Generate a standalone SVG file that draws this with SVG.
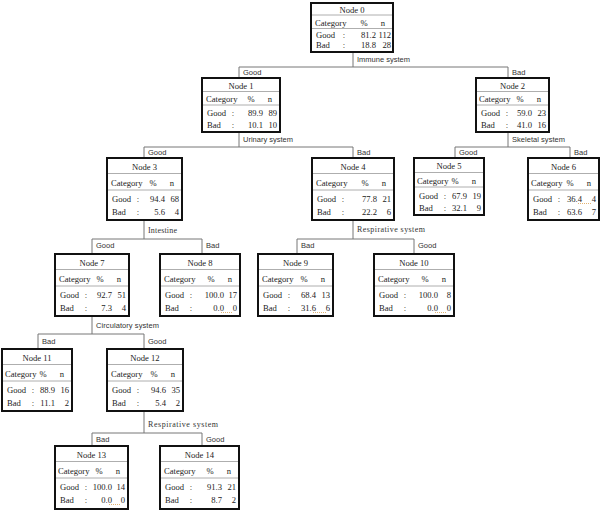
<svg xmlns="http://www.w3.org/2000/svg" width="612" height="511" viewBox="0 0 612 511">
<style>
.bg{fill:#fff}
.box{fill:#fff;stroke:#111;stroke-width:2}
.sep{stroke:#999;stroke-width:0.8}
.t{font-family:"Liberation Serif",serif;font-size:8.6px;fill:#222}
.m{text-anchor:middle}
.e{text-anchor:end}
.c{stroke:#777;stroke-width:1;fill:none}
.lbl{font-family:"Liberation Sans",sans-serif;font-size:7.5px;fill:#333}
.sl{font-family:"Liberation Serif",serif;font-size:8px;fill:#333}
.dot{stroke:#d9a050;stroke-width:0.8;stroke-dasharray:1 1}
</style>
<rect class="bg" x="0" y="0" width="612" height="511"/>

<g id="connectors">
  <path class="c" d="M353 52V67M239 67H508M239 67V78M508 67V78"/>
  <path class="c" d="M239 132V147M144 147H353M144 147V158M353 147V158"/>
  <path class="c" d="M508 132V147M455 147H570M455 147V158M570 147V158"/>
  <path class="c" d="M144 220V239M92 239H202M92 239V254M202 239V254"/>
  <path class="c" d="M353 220V239M297 239H414M297 239V254M414 239V254"/>
  <path class="c" d="M92 316V334M38 334H144M38 334V349M144 334V349"/>
  <path class="c" d="M144 411V433M92 433H202M92 433V446M202 433V446"/>
  <text class="lbl" x="357" y="62" textLength="53">Immune system</text>
  <text class="lbl" x="243" y="75">Good</text>
  <text class="lbl" x="512" y="75">Bad</text>
  <text class="lbl" x="243" y="142" textLength="50">Urinary system</text>
  <text class="lbl" x="148" y="155">Good</text>
  <text class="lbl" x="357" y="155">Bad</text>
  <text class="lbl" x="512" y="142" textLength="53">Skeletal system</text>
  <text class="lbl" x="459" y="155">Good</text>
  <text class="lbl" x="574" y="155">Bad</text>
  <text class="sl" x="148" y="233" textLength="29">Intestine</text>
  <text class="lbl" x="96" y="248">Good</text>
  <text class="lbl" x="206" y="248">Bad</text>
  <text class="sl" x="357" y="232" textLength="68">Respirative system</text>
  <text class="lbl" x="301" y="248">Bad</text>
  <text class="lbl" x="418" y="248">Good</text>
  <text class="lbl" x="96" y="328" textLength="63">Circulatory system</text>
  <text class="lbl" x="42" y="344">Bad</text>
  <text class="lbl" x="148" y="344">Good</text>
  <text class="sl" x="148" y="427" textLength="70">Respirative system</text>
  <text class="lbl" x="96" y="442">Bad</text>
  <text class="lbl" x="206" y="442">Good</text>
</g>

<g id="node0">
  <rect class="box" x="311" y="3" width="82" height="49"/>
  <path class="sep" d="M312 15H392M312 28.5H392"/>
  <text class="t m" x="352" y="13">Node 0</text>
  <text class="t" x="315" y="25.5">Category</text><text class="t m" x="364" y="25.5">%</text><text class="t m" x="383" y="25.5">n</text>
  <text class="t" x="316" y="38">Good</text><text class="t m" x="344" y="38">:</text><text class="t e" x="376" y="38">81.2</text><text class="t e" x="391" y="38">112</text>
  <text class="t" x="316" y="48">Bad</text><text class="t m" x="344" y="48">:</text><text class="t e" x="376" y="48">18.8</text><text class="t e" x="391" y="48">28</text>
</g>

<g id="node1">
  <rect class="box" x="202" y="78" width="78" height="54"/>
  <path class="sep" d="M203 91.5H279M203 105H279"/>
  <text class="t m" x="241" y="89">Node 1</text>
  <text class="t" x="206" y="102">Category</text><text class="t m" x="251" y="102">%</text><text class="t m" x="270" y="102">n</text>
  <text class="t" x="207" y="116">Good</text><text class="t m" x="233" y="116">:</text><text class="t e" x="263" y="116">89.9</text><text class="t e" x="277" y="116">89</text>
  <text class="t" x="207" y="128">Bad</text><text class="t m" x="233" y="128">:</text><text class="t e" x="263" y="128">10.1</text><text class="t e" x="277" y="128">10</text>
</g>

<g id="node2">
  <rect class="box" x="476" y="78" width="73" height="54"/>
  <path class="sep" d="M477 91.5H548M477 105H548"/>
  <text class="t m" x="512.5" y="89">Node 2</text>
  <text class="t" x="479" y="102">Category</text><text class="t m" x="520" y="102">%</text><text class="t m" x="539" y="102">n</text>
  <text class="t" x="481" y="116">Good</text><text class="t m" x="507" y="116">:</text><text class="t e" x="532" y="116">59.0</text><text class="t e" x="546" y="116">23</text>
  <text class="t" x="481" y="128">Bad</text><text class="t m" x="507" y="128">:</text><text class="t e" x="532" y="128">41.0</text><text class="t e" x="546" y="128">16</text>
</g>

<g id="node3">
  <rect class="box" x="107" y="158" width="75" height="62"/>
  <path class="sep" d="M108 173.5H181M108 190H181"/>
  <text class="t m" x="144.5" y="170">Node 3</text>
  <text class="t" x="111" y="186">Category</text><text class="t m" x="153" y="186">%</text><text class="t m" x="172" y="186">n</text>
  <text class="t" x="112" y="202">Good</text><text class="t m" x="138" y="202">:</text><text class="t e" x="165" y="202">94.4</text><text class="t e" x="179" y="202">68</text>
  <text class="t" x="112" y="215">Bad</text><text class="t m" x="138" y="215">:</text><text class="t e" x="165" y="215">5.6</text><text class="t e" x="179" y="215">4</text>
</g>

<g id="node4">
  <rect class="box" x="312" y="158" width="82" height="62"/>
  <path class="sep" d="M313 173.5H393M313 190H393"/>
  <text class="t m" x="353" y="170">Node 4</text>
  <text class="t" x="316" y="186">Category</text><text class="t m" x="365" y="186">%</text><text class="t m" x="384" y="186">n</text>
  <text class="t" x="317" y="202">Good</text><text class="t m" x="343" y="202">:</text><text class="t e" x="377" y="202">77.8</text><text class="t e" x="391" y="202">21</text>
  <text class="t" x="317" y="215">Bad</text><text class="t m" x="343" y="215">:</text><text class="t e" x="377" y="215">22.2</text><text class="t e" x="391" y="215">6</text>
</g>

<g id="node5">
  <rect class="box" x="414" y="158" width="70" height="57"/>
  <path class="sep" d="M415 172.5H483M415 187H483"/>
  <text class="t m" x="449" y="169">Node 5</text>
  <text class="t" x="417" y="184">Category</text><text class="t m" x="455" y="184">%</text><text class="t m" x="474" y="184">n</text>
  <text class="t" x="419" y="198.5">Good</text><text class="t m" x="445" y="198.5">:</text><text class="t e" x="467" y="198.5">67.9</text><text class="t e" x="481" y="198.5">19</text>
  <text class="t" x="419" y="210.5">Bad</text><text class="t m" x="445" y="210.5">:</text><text class="t e" x="467" y="210.5">32.1</text><text class="t e" x="481" y="210.5">9</text>
</g>

<g id="node6">
  <rect class="box" x="528" y="158" width="71" height="62"/>
  <path class="sep" d="M529 173.5H598M529 190H598"/>
  <text class="t m" x="563.5" y="170">Node 6</text>
  <text class="t" x="531" y="186">Category</text><text class="t m" x="570" y="186">%</text><text class="t m" x="589" y="186">n</text>
  <text class="t" x="533" y="202">Good</text><text class="t m" x="559" y="202">:</text><text class="t e" x="582" y="202">36.4</text><text class="t e" x="596" y="202">4</text>
  <path class="dot" d="M578 203.5H592"/>
  <text class="t" x="533" y="215">Bad</text><text class="t m" x="559" y="215">:</text><text class="t e" x="582" y="215">63.6</text><text class="t e" x="596" y="215">7</text>
</g>

<g id="node7">
  <rect class="box" x="55" y="254" width="74" height="62"/>
  <path class="sep" d="M56 269.5H128M56 286H128"/>
  <text class="t m" x="92" y="266">Node 7</text>
  <text class="t" x="59" y="282">Category</text><text class="t m" x="100" y="282">%</text><text class="t m" x="119" y="282">n</text>
  <text class="t" x="60" y="298">Good</text><text class="t m" x="86" y="298">:</text><text class="t e" x="112" y="298">92.7</text><text class="t e" x="126" y="298">51</text>
  <text class="t" x="60" y="311">Bad</text><text class="t m" x="86" y="311">:</text><text class="t e" x="112" y="311">7.3</text><text class="t e" x="126" y="311">4</text>
</g>

<g id="node8">
  <rect class="box" x="160" y="254" width="80" height="62"/>
  <path class="sep" d="M161 269.5H239M161 286H239"/>
  <text class="t m" x="200" y="266">Node 8</text>
  <text class="t" x="164" y="282">Category</text><text class="t m" x="211" y="282">%</text><text class="t m" x="230" y="282">n</text>
  <text class="t" x="165" y="298">Good</text><text class="t m" x="191" y="298">:</text><text class="t e" x="224" y="298">100.0</text><text class="t e" x="237" y="298">17</text>
  <text class="t" x="165" y="311">Bad</text><text class="t m" x="191" y="311">:</text><text class="t e" x="224" y="311">0.0</text><text class="t e" x="237" y="311">0</text>
  <path class="dot" d="M221 312.5H233"/>
</g>

<g id="node9">
  <rect class="box" x="258" y="254" width="75" height="62"/>
  <path class="sep" d="M259 269.5H332M259 286H332"/>
  <text class="t m" x="295.5" y="266">Node 9</text>
  <text class="t" x="262" y="282">Category</text><text class="t m" x="304" y="282">%</text><text class="t m" x="323" y="282">n</text>
  <text class="t" x="263" y="298">Good</text><text class="t m" x="289" y="298">:</text><text class="t e" x="316" y="298">68.4</text><text class="t e" x="330" y="298">13</text>
  <text class="t" x="263" y="311">Bad</text><text class="t m" x="289" y="311">:</text><text class="t e" x="316" y="311">31.6</text><text class="t e" x="330" y="311">6</text>
  <path class="dot" d="M313 312.5H326"/>
</g>

<g id="node10">
  <rect class="box" x="374" y="254" width="80" height="62"/>
  <path class="sep" d="M375 269.5H453M375 286H453"/>
  <text class="t m" x="414" y="266">Node 10</text>
  <text class="t" x="378" y="282">Category</text><text class="t m" x="425" y="282">%</text><text class="t m" x="444" y="282">n</text>
  <text class="t" x="379" y="298">Good</text><text class="t m" x="405" y="298">:</text><text class="t e" x="438" y="298">100.0</text><text class="t e" x="451" y="298">8</text>
  <text class="t" x="379" y="311">Bad</text><text class="t m" x="405" y="311">:</text><text class="t e" x="438" y="311">0.0</text><text class="t e" x="451" y="311">0</text>
  <path class="dot" d="M435 312.5H447"/>
</g>

<g id="node11">
  <rect class="box" x="2" y="349" width="70" height="62"/>
  <path class="sep" d="M3 364.5H71M3 381H71"/>
  <text class="t m" x="37" y="361">Node 11</text>
  <text class="t" x="5" y="377">Category</text><text class="t m" x="43" y="377">%</text><text class="t m" x="62" y="377">n</text>
  <text class="t" x="7" y="393">Good</text><text class="t m" x="33" y="393">:</text><text class="t e" x="55" y="393">88.9</text><text class="t e" x="69" y="393">16</text>
  <text class="t" x="7" y="406">Bad</text><text class="t m" x="33" y="406">:</text><text class="t e" x="55" y="406">11.1</text><text class="t e" x="69" y="406">2</text>
</g>

<g id="node12">
  <rect class="box" x="107" y="349" width="76" height="62"/>
  <path class="sep" d="M108 364.5H182M108 381H182"/>
  <text class="t m" x="145" y="361">Node 12</text>
  <text class="t" x="111" y="377">Category</text><text class="t m" x="154" y="377">%</text><text class="t m" x="173" y="377">n</text>
  <text class="t" x="112" y="393">Good</text><text class="t m" x="138" y="393">:</text><text class="t e" x="166" y="393">94.6</text><text class="t e" x="180" y="393">35</text>
  <text class="t" x="112" y="406">Bad</text><text class="t m" x="138" y="406">:</text><text class="t e" x="166" y="406">5.4</text><text class="t e" x="180" y="406">2</text>
</g>

<g id="node13">
  <rect class="box" x="55" y="446" width="73" height="63"/>
  <path class="sep" d="M56 461.5H127M56 478H127"/>
  <text class="t m" x="91.5" y="458">Node 13</text>
  <text class="t" x="58" y="474">Category</text><text class="t m" x="99" y="474">%</text><text class="t m" x="118" y="474">n</text>
  <text class="t" x="60" y="490">Good</text><text class="t m" x="86" y="490">:</text><text class="t e" x="112" y="490">100.0</text><text class="t e" x="125" y="490">14</text>
  <text class="t" x="60" y="503">Bad</text><text class="t m" x="86" y="503">:</text><text class="t e" x="112" y="503">0.0</text><text class="t e" x="125" y="503">0</text>
  <path class="dot" d="M109 504.5H121"/>
</g>

<g id="node14">
  <rect class="box" x="160" y="446" width="79" height="63"/>
  <path class="sep" d="M161 461.5H238M161 478H238"/>
  <text class="t m" x="199.5" y="458">Node 14</text>
  <text class="t" x="164" y="474">Category</text><text class="t m" x="210" y="474">%</text><text class="t m" x="229" y="474">n</text>
  <text class="t" x="165" y="490">Good</text><text class="t m" x="191" y="490">:</text><text class="t e" x="222" y="490">91.3</text><text class="t e" x="236" y="490">21</text>
  <text class="t" x="165" y="503">Bad</text><text class="t m" x="191" y="503">:</text><text class="t e" x="222" y="503">8.7</text><text class="t e" x="236" y="503">2</text>
</g>
</svg>
